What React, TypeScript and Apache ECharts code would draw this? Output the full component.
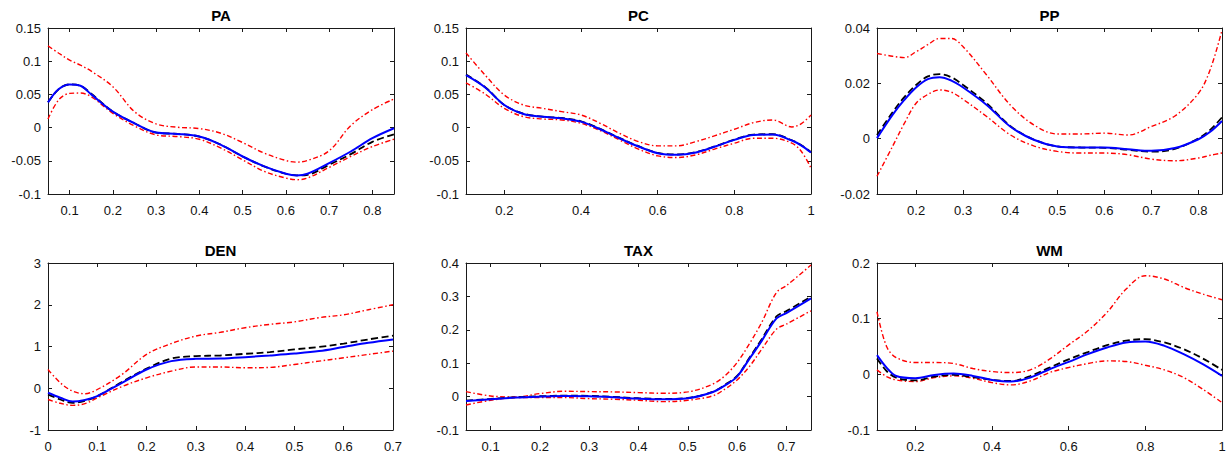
import React, { useEffect, useRef } from "react";
import * as echarts from "echarts";

// ---------- data ----------
const PA_X = [0.05, 0.075, 0.1, 0.125, 0.15, 0.2, 0.25, 0.3, 0.35, 0.4, 0.45, 0.5, 0.55, 0.6, 0.625, 0.65, 0.7, 0.75, 0.8, 0.85];
const PA_EST = [0.038, 0.058, 0.065, 0.063, 0.05, 0.024, 0.0065, -0.0075, -0.0095, -0.0135, -0.026, -0.0435, -0.0585, -0.0695, -0.072, -0.0695, -0.0535, -0.036, -0.016, -0.001];
const PA_TRUE = [0.038, 0.058, 0.065, 0.063, 0.051, 0.024, 0.0065, -0.0075, -0.0095, -0.0135, -0.026, -0.0435, -0.0585, -0.0695, -0.072, -0.071, -0.056, -0.04, -0.0215, -0.01];
const PA_UP = [0.123, 0.112, 0.1015, 0.094, 0.085, 0.0615, 0.024, 0.0055, 0.0005, -0.0015, -0.0085, -0.0225, -0.0385, -0.0495, -0.052, -0.0495, -0.035, 0.003, 0.027, 0.043];
const PA_LO = [0.013, 0.042, 0.0515, 0.052, 0.0465, 0.0215, 0.0025, -0.011, -0.0135, -0.0175, -0.031, -0.0485, -0.066, -0.076, -0.0785, -0.076, -0.06, -0.0435, -0.0285, -0.0175];

const PC_X = [0.1, 0.15, 0.2, 0.25, 0.3, 0.35, 0.4, 0.45, 0.5, 0.55, 0.6, 0.65, 0.7, 0.75, 0.8, 0.85, 0.9, 0.95, 0.975, 1.0];
const PC_EST = [0.079, 0.0605, 0.034, 0.0205, 0.0165, 0.014, 0.009, -0.0025, -0.016, -0.0285, -0.0385, -0.041, -0.0375, -0.0285, -0.0185, -0.011, -0.0105, -0.0195, -0.027, -0.0375];
const PC_TRUE = [0.08, 0.061, 0.034, 0.021, 0.0165, 0.0145, 0.0095, -0.002, -0.0155, -0.028, -0.038, -0.0405, -0.037, -0.028, -0.018, -0.0105, -0.01, -0.019, -0.0265, -0.037];
const PC_UP = [0.1125, 0.079, 0.049, 0.034, 0.029, 0.024, 0.019, 0.0065, -0.0085, -0.021, -0.0275, -0.0275, -0.021, -0.012, -0.0025, 0.0075, 0.0115, 0.001, 0.006, 0.019];
const PC_LO = [0.0675, 0.0505, 0.029, 0.0165, 0.013, 0.0115, 0.0065, -0.0045, -0.0185, -0.0325, -0.0425, -0.045, -0.041, -0.032, -0.0235, -0.016, -0.016, -0.0235, -0.036, -0.061];

const PP_X = [0.117, 0.15, 0.175, 0.2, 0.225, 0.25, 0.275, 0.3, 0.35, 0.4, 0.45, 0.5, 0.55, 0.6, 0.65, 0.7, 0.75, 0.8, 0.825, 0.85];
const PP_EST = [0.0002, 0.0086, 0.014, 0.0185, 0.0215, 0.0222, 0.021, 0.0185, 0.0122, 0.0044, -0.0004, -0.0028, -0.0032, -0.0032, -0.0038, -0.0044, -0.0034, -0.0002, 0.0025, 0.0064];
const PP_TRUE = [0.0013, 0.0095, 0.015, 0.0194, 0.0225, 0.0233, 0.0222, 0.0194, 0.0128, 0.0046, -0.0003, -0.0028, -0.0032, -0.0033, -0.004, -0.0047, -0.0037, 0.0001, 0.0032, 0.0077];
const PP_UP = [0.0308, 0.0298, 0.0293, 0.0314, 0.034, 0.0362, 0.0362, 0.0332, 0.023, 0.0122, 0.005, 0.0017, 0.0017, 0.002, 0.0013, 0.0044, 0.0082, 0.0164, 0.025, 0.0392];
const PP_LO = [-0.0136, -0.0028, 0.0055, 0.0128, 0.016, 0.0176, 0.0168, 0.0142, 0.008, 0.0014, -0.0026, -0.0046, -0.0052, -0.0052, -0.0058, -0.0074, -0.008, -0.007, -0.006, -0.0052];

const DEN_X = [0, 0.025, 0.05, 0.075, 0.1, 0.15, 0.2, 0.25, 0.3, 0.35, 0.4, 0.45, 0.5, 0.55, 0.6, 0.65, 0.7];
const DEN_EST = [-0.107, -0.227, -0.32, -0.28, -0.187, 0.131, 0.45, 0.65, 0.705, 0.713, 0.745, 0.785, 0.83, 0.89, 0.99, 1.09, 1.17];
const DEN_TRUE = [-0.15, -0.27, -0.35, -0.3, -0.19, 0.15, 0.47, 0.71, 0.77, 0.785, 0.825, 0.865, 0.93, 0.99, 1.07, 1.17, 1.26];
const DEN_UP = [0.45, 0.13, -0.07, -0.13, -0.03, 0.33, 0.81, 1.07, 1.25, 1.34, 1.45, 1.53, 1.59, 1.69, 1.76, 1.88, 2.0];
const DEN_LO = [-0.27, -0.36, -0.41, -0.37, -0.23, 0.04, 0.25, 0.41, 0.51, 0.51, 0.49, 0.5, 0.57, 0.65, 0.73, 0.81, 0.89];

const TAX_X = [0.05, 0.1, 0.15, 0.2, 0.25, 0.3, 0.35, 0.4, 0.45, 0.5, 0.55, 0.575, 0.6, 0.625, 0.65, 0.68, 0.7, 0.75];
const TAX_EST = [-0.013, -0.008, -0.003, 0, 0.002, 0.001, -0.002, -0.006, -0.008, -0.005, 0.013, 0.033, 0.06, 0.113, 0.167, 0.234, 0.25, 0.294];
const TAX_TRUE = [-0.012, -0.007, -0.002, 0.001, 0.003, 0.002, -0.001, -0.005, -0.007, -0.004, 0.014, 0.035, 0.062, 0.116, 0.172, 0.24, 0.256, 0.299];
const TAX_UP = [0.015, 0.002, -0.001, 0.009, 0.016, 0.015, 0.014, 0.012, 0.01, 0.014, 0.037, 0.062, 0.102, 0.158, 0.222, 0.312, 0.332, 0.394];
const TAX_LO = [-0.025, -0.011, -0.003, -0.003, -0.003, -0.006, -0.008, -0.011, -0.015, -0.011, 0.002, 0.022, 0.05, 0.09, 0.142, 0.202, 0.217, 0.257];

const WM_X = [0.1, 0.125, 0.15, 0.2, 0.25, 0.3, 0.35, 0.4, 0.45, 0.5, 0.55, 0.6, 0.65, 0.7, 0.75, 0.8, 0.85, 0.9, 0.95, 1.0];
const WM_EST = [0.0344, 0.012, -0.003, -0.007, -0.001, 0.0014, -0.0028, -0.01, -0.013, -0.0058, 0.0092, 0.0224, 0.0362, 0.0482, 0.0572, 0.059, 0.0512, 0.0362, 0.0182, -0.0028];
const WM_TRUE = [0.0284, 0.006, -0.006, -0.011, -0.004, -0.001, -0.005, -0.01, -0.012, -0.003, 0.012, 0.027, 0.04, 0.0524, 0.0605, 0.0632, 0.0572, 0.0452, 0.0284, 0.008];
const WM_UP = [0.1124, 0.05, 0.0302, 0.0212, 0.0212, 0.0194, 0.0104, 0.005, 0.0032, 0.008, 0.0272, 0.053, 0.0782, 0.1112, 0.1532, 0.1772, 0.1712, 0.1562, 0.1442, 0.134];
const WM_LO = [0.008, -0.004, -0.01, -0.013, -0.0058, -0.0028, -0.007, -0.0148, -0.019, -0.0118, 0.0032, 0.0122, 0.0194, 0.0242, 0.023, 0.0164, 0.008, -0.0058, -0.0268, -0.0508];

// axis ranges and tick labels
const PA_XTICKS = [0.1, 0.2, 0.3, 0.4, 0.5, 0.6, 0.7, 0.8];
const PC_XTICKS = [0.2, 0.4, 0.6, 0.8, 1];
const PP_XTICKS = [0.2, 0.3, 0.4, 0.5, 0.6, 0.7, 0.8];
const DEN_XTICKS = [0, 0.1, 0.2, 0.3, 0.4, 0.5, 0.6, 0.7];
const TAX_XTICKS = [0.1, 0.2, 0.3, 0.4, 0.5, 0.6, 0.7];
const WM_XTICKS = [0.2, 0.4, 0.6, 0.8, 1];

const PANELS = [
  { name: "PA", x: PA_X, est: PA_EST, tru: PA_TRUE, up: PA_UP, lo: PA_LO, xMin: 0.05, xMax: 0.85, xTicks: PA_XTICKS, yMin: -0.1, yMax: 0.15, yInt: 0.05 },
  { name: "PC", x: PC_X, est: PC_EST, tru: PC_TRUE, up: PC_UP, lo: PC_LO, xMin: 0.1, xMax: 1.0, xTicks: PC_XTICKS, yMin: -0.1, yMax: 0.15, yInt: 0.05 },
  { name: "PP", x: PP_X, est: PP_EST, tru: PP_TRUE, up: PP_UP, lo: PP_LO, xMin: 0.117, xMax: 0.85, xTicks: PP_XTICKS, yMin: -0.02, yMax: 0.04, yInt: 0.02 },
  { name: "DEN", x: DEN_X, est: DEN_EST, tru: DEN_TRUE, up: DEN_UP, lo: DEN_LO, xMin: 0, xMax: 0.7, xTicks: DEN_XTICKS, yMin: -1, yMax: 3, yInt: 1 },
  { name: "TAX", x: TAX_X, est: TAX_EST, tru: TAX_TRUE, up: TAX_UP, lo: TAX_LO, xMin: 0.05, xMax: 0.75, xTicks: TAX_XTICKS, yMin: -0.1, yMax: 0.4, yInt: 0.1 },
  { name: "WM", x: WM_X, est: WM_EST, tru: WM_TRUE, up: WM_UP, lo: WM_LO, xMin: 0.1, xMax: 1.0, xTicks: WM_XTICKS, yMin: -0.1, yMax: 0.2, yInt: 0.1 },
];

// layout (pixels)
const GRIDS = [
  { left: 48, top: 28, width: 346, height: 166 },
  { left: 466, top: 28, width: 345, height: 166 },
  { left: 877, top: 28, width: 345, height: 166 },
  { left: 48, top: 263, width: 345, height: 167 },
  { left: 466, top: 263, width: 345, height: 167 },
  { left: 877, top: 263, width: 345, height: 167 },
];

const FONT = "'Liberation Sans', Arial, Helvetica, sans-serif";
const fmt = (v: number) => String(Number(v.toFixed(4)));

function buildOption() {
  const grid: any[] = [];
  const xAxis: any[] = [];
  const yAxis: any[] = [];
  const series: any[] = [];
  const graphic: any[] = [];
  const lineC = "#1a1a1a";

  PANELS.forEach((p, i) => {
    const g = GRIDS[i];
    grid.push({ left: g.left, top: g.top, width: g.width, height: g.height, containLabel: false });
    const common = {
      type: "value",
      gridIndex: i,
      splitLine: { show: false },
      axisLine: { show: true, onZero: false, lineStyle: { color: lineC, width: 1 } },
    };
    xAxis.push({
      ...common,
      position: "bottom",
      min: p.xMin,
      max: p.xMax,
      axisTick: { show: true, inside: true, length: 4, customValues: p.xTicks, lineStyle: { color: lineC } },
      axisLabel: { show: true, customValues: p.xTicks, formatter: fmt, margin: 10, fontSize: 13, color: "#111", fontFamily: FONT },
    });
    xAxis.push({
      ...common,
      position: "top",
      min: p.xMin,
      max: p.xMax,
      axisTick: { show: true, inside: true, length: 4, customValues: p.xTicks, lineStyle: { color: lineC } },
      axisLabel: { show: false, customValues: p.xTicks },
    });
    yAxis.push({
      ...common,
      position: "left",
      min: p.yMin,
      max: p.yMax,
      interval: p.yInt,
      axisTick: { show: true, inside: true, length: 4, lineStyle: { color: lineC } },
      axisLabel: { show: true, formatter: fmt, margin: 7, fontSize: 13, color: "#111", fontFamily: FONT },
    });
    yAxis.push({
      ...common,
      position: "right",
      min: p.yMin,
      max: p.yMax,
      interval: p.yInt,
      axisTick: { show: true, inside: true, length: 4, lineStyle: { color: lineC } },
      axisLabel: { show: false },
    });

    const pts = (ys: number[]) => p.x.map((xv, k) => [xv, ys[k]]);
    const base = { type: "line", xAxisIndex: 2 * i, yAxisIndex: 2 * i, showSymbol: false, symbol: "none", smooth: 0.35, clip: true, silent: true };
    const red = { color: "#ff0000", width: 1.4, type: [5, 2.5, 1.5, 2.5] };
    series.push({ ...base, name: p.name + " upper", data: pts(p.up), lineStyle: red });
    series.push({ ...base, name: p.name + " lower", data: pts(p.lo), lineStyle: red });
    series.push({ ...base, name: p.name + " true", data: pts(p.tru), lineStyle: { color: "#000000", width: 1.8, type: [7, 3.5] } });
    series.push({ ...base, name: p.name + " estimate", data: pts(p.est), lineStyle: { color: "#0000ff", width: 2, type: "solid" } });

    graphic.push({
      type: "text",
      x: g.left + g.width / 2,
      y: i < 3 ? 15 : 250,
      style: {
        text: p.name,
        textAlign: "center",
        textVerticalAlign: "middle",
        fontSize: 15,
        fontWeight: "bold",
        fontFamily: FONT,
        fill: "#000",
      },
    });
  });

  return { animation: false, backgroundColor: "#fff", grid, xAxis, yAxis, series, graphic };
}

export default function App() {
  const ref = useRef<HTMLDivElement>(null);
  useEffect(() => {
    document.body.style.margin = "0";
    if (!ref.current) return;
    const chart = echarts.init(ref.current, null, { renderer: "svg" });
    chart.setOption(buildOption() as any);
    return () => chart.dispose();
  }, []);
  return <div ref={ref} style={{ width: 1230, height: 456 }} />;
}
